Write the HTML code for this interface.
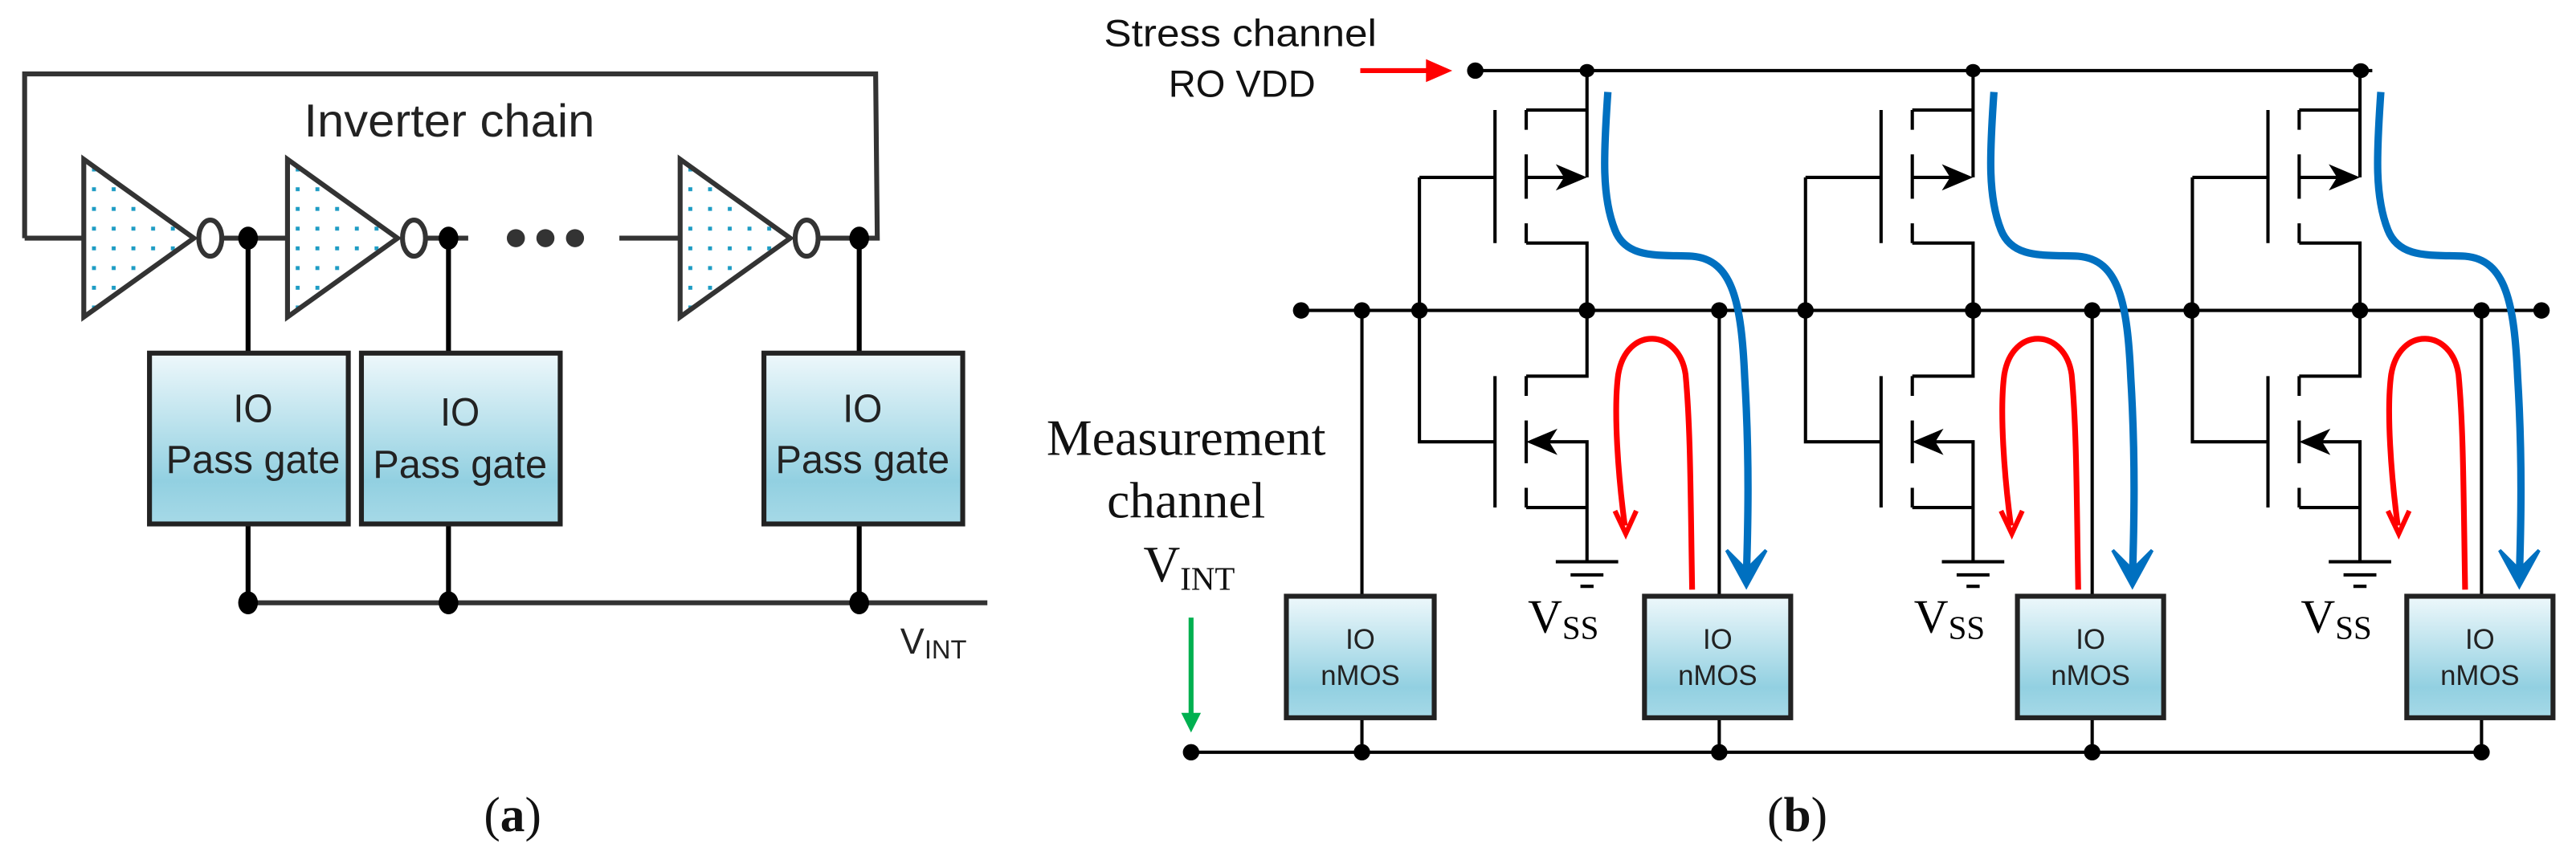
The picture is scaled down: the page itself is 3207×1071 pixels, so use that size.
<!DOCTYPE html>
<html><head><meta charset="utf-8"><style>
html,body{margin:0;padding:0;background:#fff;}
svg{display:block;}
</style></head><body>
<svg width="3207" height="1071" viewBox="0 0 1568 523.6" preserveAspectRatio="none" xmlns="http://www.w3.org/2000/svg">
<defs>
<pattern id="dots" x="0" y="0" width="12" height="12" patternUnits="userSpaceOnUse">
<rect x="5" y="5" width="2.4" height="2.4" fill="#1e9cc4"/>
</pattern>
<linearGradient id="bg" x1="0" y1="0" x2="0" y2="1">
<stop offset="0" stop-color="#eef8fb"/><stop offset="0.75" stop-color="#92d0e1"/><stop offset="1" stop-color="#a6d9e7"/>
</linearGradient>
<g id="inv">
<polygon points="0,-48 67,0 0,48" fill="url(#dots)" stroke="#333" stroke-width="3"/>
<ellipse cx="77" cy="0" rx="7" ry="11" fill="#fff" stroke="#333" stroke-width="3"/>
</g>
<g id="stage" stroke="#000" stroke-width="2" fill="none">
<path d="M966,43 V108"/>
<path d="M929,67 H966"/>
<path d="M929,67 V79 M929,94 V121 M929,136 V148"/>
<path d="M910,67 V148"/>
<path d="M929,108 H955"/>
<path d="M929,148 H966 V189"/>
<path d="M864,108 H910 M864,108 V269 H910"/>
<path d="M966,189 V229 H929"/>
<path d="M929,229 V241 M929,256 V282 M929,297 V309"/>
<path d="M910,229 V309"/>
<path d="M940,269 H966 V342"/>
<path d="M929,309 H966"/>
<path d="M947,342 H985 M956,350 H976 M962,357 H970"/>
</g>
<g id="arrows">
<polygon points="966,108 947,100 952,108 947,116" fill="#000"/>
<polygon points="929,269 948,261 943,269 948,277" fill="#000"/>
<path d="M1030,359 C1029,300 1029,260 1026,228 C1022,200 990,198 985,228 C982,250 985,290 989,320" fill="none" stroke="#ff0000" stroke-width="3.5"/>
<path d="M983,311 L989.6,325 L996,311" fill="none" stroke="#ff0000" stroke-width="3"/>
<path d="M978.7,56 C976,95 975,120 983,140 C990,158 1010,155 1030,156 C1055,158 1060,185 1062,230 C1065,280 1064,320 1063,352" fill="none" stroke="#0070c0" stroke-width="4.5"/>
<path d="M1051,335 L1063,357 L1075,335 L1063,347 Z" fill="#0070c0" stroke="#0070c0" stroke-width="2"/>
</g>
<g id="vss">
<text x="930" y="385" font-family="Liberation Serif, serif" font-size="29">V<tspan font-size="20" dy="4">SS</tspan></text>
</g>
<g id="iobox">
<rect x="1001" y="363" width="89" height="74" fill="url(#bg)" stroke="#222" stroke-width="3"/>
<text x="1045.5" y="395" text-anchor="middle" font-family="Liberation Sans, sans-serif" font-size="17" fill="#222">IO</text>
<text x="1045.5" y="417" text-anchor="middle" font-family="Liberation Sans, sans-serif" font-size="17" fill="#222">nMOS</text>
</g>
</defs>

<!-- (a) -->
<g stroke="#333" stroke-width="3" fill="none">
<path d="M15,145 V45 H533 L534,145 H523"/>
<path d="M15,145 H51"/>
<path d="M135,145 H175"/>
<path d="M259,145 H285"/>
<path d="M377,145 H414"/>
<path d="M498,145 H523"/>
<path d="M151,367 H601"/>
</g>
<g stroke="#000" stroke-width="3">
<path d="M151,145 V215 M151,319 V367"/>
<path d="M273,145 V215 M273,319 V367"/>
<path d="M523,145 V215 M523,319 V367"/>
</g>
<use href="#inv" x="51" y="145"/>
<use href="#inv" x="175" y="145"/>
<use href="#inv" x="414" y="145"/>
<g fill="#000">
<ellipse cx="151" cy="145" rx="6" ry="7"/><ellipse cx="273" cy="145" rx="6" ry="7"/><ellipse cx="523" cy="145" rx="6" ry="7"/>
<ellipse cx="151" cy="367" rx="6" ry="7"/><ellipse cx="273" cy="367" rx="6" ry="7"/><ellipse cx="523" cy="367" rx="6" ry="7"/>
</g>
<g fill="#333"><circle cx="314" cy="145" r="5.5"/><circle cx="332" cy="145" r="5.5"/><circle cx="350" cy="145" r="5.5"/></g>
<text x="185" y="83" font-family="Liberation Sans, sans-serif" font-size="28" fill="#222" textLength="177" lengthAdjust="spacingAndGlyphs">Inverter chain</text>
<g font-family="Liberation Sans, sans-serif" fill="#222" text-anchor="middle">
<rect x="91" y="215" width="121" height="104" fill="url(#bg)" stroke="#222" stroke-width="3"/>
<rect x="220" y="215" width="121" height="104" fill="url(#bg)" stroke="#222" stroke-width="3"/>
<rect x="465" y="215" width="121" height="104" fill="url(#bg)" stroke="#222" stroke-width="3"/>
<text x="154" y="257" font-size="24" textLength="24" lengthAdjust="spacingAndGlyphs">IO</text><text x="154" y="288" font-size="24" textLength="106" lengthAdjust="spacingAndGlyphs">Pass gate</text>
<text x="280" y="259" font-size="24" textLength="24" lengthAdjust="spacingAndGlyphs">IO</text><text x="280" y="291" font-size="24" textLength="106" lengthAdjust="spacingAndGlyphs">Pass gate</text>
<text x="525" y="257" font-size="24" textLength="24" lengthAdjust="spacingAndGlyphs">IO</text><text x="525" y="288" font-size="24" textLength="106" lengthAdjust="spacingAndGlyphs">Pass gate</text>
</g>
<text x="548" y="398" font-family="Liberation Sans, sans-serif" font-size="22" fill="#222">V<tspan font-size="16" dy="3">INT</tspan></text>
<text x="312" y="506" text-anchor="middle" font-family="Liberation Serif, serif" font-size="30" fill="#111">(<tspan font-weight="bold">a</tspan>)</text>

<!-- (b) -->
<text x="755" y="28" text-anchor="middle" font-family="Liberation Sans, sans-serif" font-size="23" fill="#111" textLength="166" lengthAdjust="spacingAndGlyphs">Stress channel</text>
<text x="756" y="59" text-anchor="middle" font-family="Liberation Sans, sans-serif" font-size="23" fill="#111">RO VDD</text>
<path d="M828,43 H870" stroke="#ff0000" stroke-width="3"/>
<polygon points="868,36 884,43 868,50" fill="#ff0000"/>
<text x="722" y="277" text-anchor="middle" font-family="Liberation Serif, serif" font-size="31" fill="#111" textLength="170" lengthAdjust="spacingAndGlyphs">Measurement</text>
<text x="722" y="315" text-anchor="middle" font-family="Liberation Serif, serif" font-size="31" fill="#111">channel</text>
<text x="696" y="354" font-family="Liberation Serif, serif" font-size="31" fill="#111">V<tspan font-size="20" dy="5">INT</tspan></text>
<path d="M725,376 V436" stroke="#00b050" stroke-width="3"/>
<polygon points="719,434 725,446 731,434" fill="#00b050"/>

<g stroke="#000" stroke-width="2" fill="none">
<path d="M898,43 H1444"/>
<path d="M792,189 H1547"/>
<path d="M725,458 H1511"/>
<path d="M829,189 V363 M829,437 V458"/>
</g>
<rect x="783" y="363" width="90" height="74" fill="url(#bg)" stroke="#222" stroke-width="3"/>
<text x="828" y="395" text-anchor="middle" font-family="Liberation Sans, sans-serif" font-size="17" fill="#222">IO</text>
<text x="828" y="417" text-anchor="middle" font-family="Liberation Sans, sans-serif" font-size="17" fill="#222">nMOS</text>

<use href="#stage" x="0"/><use href="#stage" x="235"/><use href="#stage" x="470.5"/>
<use href="#vss" x="0"/><use href="#vss" x="235"/><use href="#vss" x="470.5"/>
<g stroke="#000" stroke-width="2">
<path d="M1046.5,189 V363 M1046.5,437 V458"/>
<path d="M1273.5,189 V363 M1273.5,437 V458"/>
<path d="M1510.5,189 V363 M1510.5,437 V458"/>
</g>
<use href="#iobox" x="0"/><use href="#iobox" x="227"/><use href="#iobox" x="464"/>
<use href="#arrows" x="0"/><use href="#arrows" x="235"/><use href="#arrows" x="470.5"/>

<g fill="#000">
<ellipse cx="898" cy="43" rx="5" ry="5"/>
<ellipse cx="966" cy="43" rx="4.5" ry="4"/><ellipse cx="1201" cy="43" rx="4.5" ry="4"/><ellipse cx="1437" cy="43" rx="5" ry="4.5"/>
<ellipse cx="792" cy="189" rx="5" ry="5"/><ellipse cx="829" cy="189" rx="5" ry="5"/><ellipse cx="864" cy="189" rx="5" ry="5"/>
<ellipse cx="966" cy="189" rx="5" ry="5"/><ellipse cx="1046.5" cy="189" rx="5" ry="5"/><ellipse cx="1099" cy="189" rx="5" ry="5"/>
<ellipse cx="1201" cy="189" rx="5" ry="5"/><ellipse cx="1273.5" cy="189" rx="5" ry="5"/><ellipse cx="1334" cy="189" rx="5" ry="5"/>
<ellipse cx="1436.5" cy="189" rx="5" ry="5"/><ellipse cx="1510.5" cy="189" rx="5" ry="5"/><ellipse cx="1547" cy="189" rx="5" ry="5"/>
<ellipse cx="725" cy="458" rx="5" ry="5"/><ellipse cx="829" cy="458" rx="5" ry="5"/><ellipse cx="1046.5" cy="458" rx="5" ry="5"/>
<ellipse cx="1273.5" cy="458" rx="5" ry="5"/><ellipse cx="1510.5" cy="458" rx="5" ry="5"/>
</g>
<text x="1094" y="506" text-anchor="middle" font-family="Liberation Serif, serif" font-size="30" fill="#111">(<tspan font-weight="bold">b</tspan>)</text>
</svg>
</body></html>
